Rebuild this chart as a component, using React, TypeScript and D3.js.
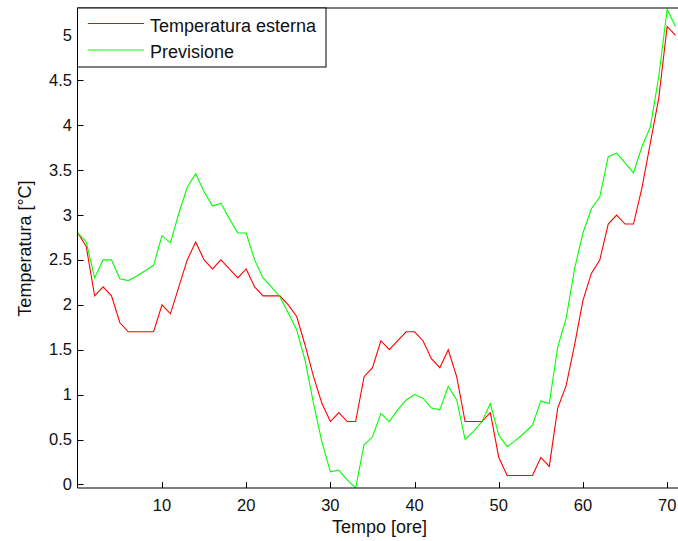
import React from "react";
import * as d3 from "d3";

const hours = [
  0, 1, 2, 3, 4, 5, 6, 7, 8, 9, 10, 11, 12, 13, 14, 15, 16, 17, 18, 19, 20, 21, 22, 23,
  24, 25, 26, 27, 28, 29, 30, 31, 32, 33, 34, 35, 36, 37, 38, 39, 40, 41, 42, 43, 44, 45, 46, 47,
  48, 49, 50, 51, 52, 53, 54, 55, 56, 57, 58, 59, 60, 61, 62, 63, 64, 65, 66, 67, 68, 69, 70, 71,
];

const temperaturaEsterna = [
  2.8, 2.65, 2.1, 2.2, 2.1, 1.8, 1.7, 1.7, 1.7, 1.7, 2.0, 1.9, 2.2, 2.5, 2.7, 2.5, 2.4, 2.5, 2.4, 2.3, 2.4, 2.2, 2.1, 2.1,
  2.1, 2.0, 1.87, 1.55, 1.2, 0.9, 0.7, 0.8, 0.7, 0.7, 1.2, 1.3, 1.6, 1.5, 1.6, 1.7, 1.7, 1.6, 1.4, 1.3, 1.5, 1.2, 0.7, 0.7,
  0.7, 0.8, 0.3, 0.1, 0.1, 0.1, 0.1, 0.3, 0.2, 0.85, 1.1, 1.55, 2.05, 2.35, 2.5, 2.9, 3.0, 2.9, 2.9, 3.3, 3.8, 4.3, 5.1, 5.0,
];

const previsione = [
  2.8, 2.7, 2.3, 2.5, 2.5, 2.29, 2.27, 2.32, 2.38, 2.44, 2.77, 2.69, 3.02, 3.31, 3.46, 3.26, 3.1, 3.13, 2.96, 2.8, 2.8, 2.5, 2.3, 2.2,
  2.09, 1.91, 1.72, 1.38, 0.9, 0.47, 0.14, 0.16, 0.05, -0.04, 0.44, 0.53, 0.79, 0.7, 0.83, 0.94, 1.0, 0.96, 0.85, 0.83, 1.09, 0.94, 0.5, 0.59,
  0.7, 0.9, 0.55, 0.42, 0.49, 0.57, 0.66, 0.93, 0.9, 1.53, 1.85, 2.4, 2.8, 3.07, 3.2, 3.65, 3.69, 3.58, 3.47, 3.76, 3.98, 4.54, 5.29, 5.1,
];

const xTicks = [10, 20, 30, 40, 50, 60, 70];
const yTicks = [0, 0.5, 1, 1.5, 2, 2.5, 3, 3.5, 4, 4.5, 5];
const seriesNames = ["Temperatura esterna", "Previsione"];
const seriesColors = ["#ff0000", "#00ff00"];

const W = 678;
const H = 541;
const left = 77.5;
const right = 678;
const top = 8;
const bottom = 488;
const FONT = "Arial, 'Liberation Sans', sans-serif";

export default function App() {
  const x = d3.scaleLinear().domain([0, 71.3]).range([77.8, 678.1]);
  const y = d3.scaleLinear().domain([-0.04, 5.3]).range([bottom, top + 0.5]);

  const line = d3
    .line<number>()
    .x((_, i) => x(hours[i]))
    .y((d) => y(d));

  const series = [temperaturaEsterna, previsione];

  return (
    <svg
      width={W}
      height={H}
      style={{ position: "absolute", left: 0, top: 0, background: "#fff" }}
      fontFamily={FONT}
    >
      <defs>
        <clipPath id="plot">
          <rect x={left} y={top} width={right - left} height={bottom - top} />
        </clipPath>
      </defs>
      <rect x={0} y={0} width={W} height={H} fill="#fff" />

      <g clipPath="url(#plot)">
        {series.map((s, k) => (
          <path key={k} d={line(s) || ""} fill="none" stroke={seriesColors[k]} strokeWidth={1.1} />
        ))}
      </g>

      <line x1={left} x2={left} y1={top} y2={bottom} stroke="#000" strokeWidth={1} />
      <line x1={left} x2={right} y1={bottom} y2={bottom} stroke="#000" strokeWidth={1} />
      <line x1={left} x2={right} y1={top} y2={top} stroke="#000" strokeWidth={1} />

      {yTicks.map((t) => (
        <g key={t}>
          <line x1={left} x2={left + 6} y1={Math.round(y(t)) + 0.5} y2={Math.round(y(t)) + 0.5} stroke="#000" />
          <text x={72} y={y(t) + 5.5} textAnchor="end" fontSize={16.5} fill="#111">
            {t}
          </text>
        </g>
      ))}
      {xTicks.map((t) => (
        <g key={t}>
          <line x1={Math.round(x(t)) + 0.5} x2={Math.round(x(t)) + 0.5} y1={bottom} y2={bottom - 6} stroke="#000" />
          <text x={x(t)} y={511} textAnchor="middle" fontSize={16.5} fill="#111">
            {t}
          </text>
        </g>
      ))}

      <text x={379.5} y={533} textAnchor="middle" fontSize={18} fill="#111">
        Tempo [ore]
      </text>
      <text
        transform="translate(30.5,248.5) rotate(-90)"
        textAnchor="middle"
        fontSize={18}
        fill="#111"
      >
        Temperatura [°C]
      </text>

      <rect x={left} y={top} width={326 - left} height={67 - top} fill="#fff" stroke="#000" strokeWidth={1} />
      {seriesNames.map((n, k) => (
        <g key={n}>
          <line
            x1={88}
            x2={144}
            y1={23.5 + k * 26.5}
            y2={23.5 + k * 26.5}
            stroke={seriesColors[k]}
            strokeWidth={1.1}
          />
          <text x={150} y={31.5 + k * 26.5} fontSize={18} fill="#111">
            {n}
          </text>
        </g>
      ))}
    </svg>
  );
}
